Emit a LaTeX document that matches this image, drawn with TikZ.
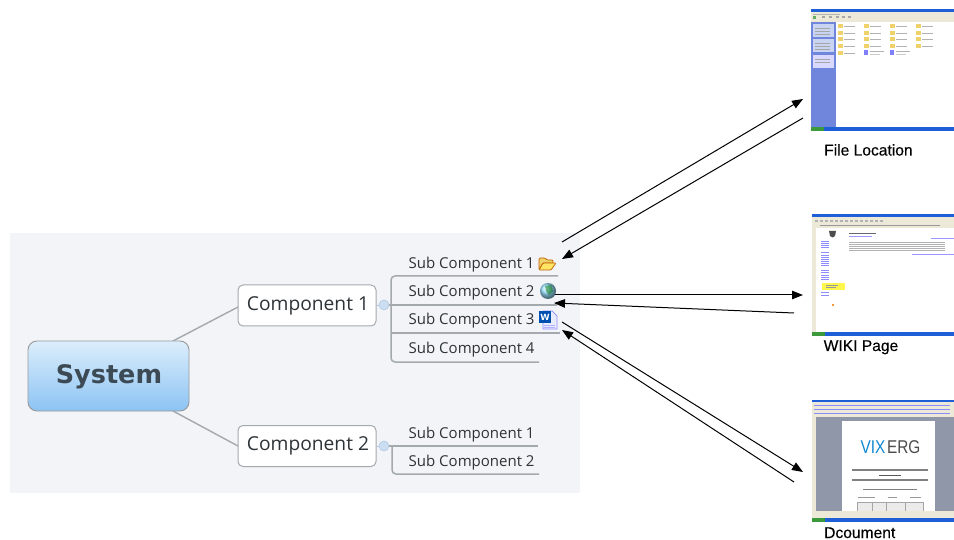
\documentclass[tikz,border=0pt]{standalone}
\usepackage{fontspec}
\setmainfont{Open Sans}
\newfontfamily\labelfont[FakeBold=0.25]{Liberation Sans}
\newfontfamily\plainlabel{Liberation Sans}
\newfontfamily\sysfont{DejaVu Sans}
\usetikzlibrary{arrows.meta}
\definecolor{panel}{HTML}{F2F4F8}
\definecolor{branch}{HTML}{A4A9AE}
\definecolor{inktext}{HTML}{2E3338}
\definecolor{systext}{HTML}{3C4A55}
\definecolor{xpblue}{HTML}{1E5FD8}
\definecolor{xpside}{HTML}{6F86DC}
\definecolor{xpbeige}{HTML}{ECE9D8}
\definecolor{xpgreen}{HTML}{3C9A3C}
\definecolor{folderc}{HTML}{F0D26A}
\definecolor{wordgrey}{HTML}{8F97A8}
\definecolor{systop}{HTML}{DCEEFC}
\definecolor{sysbot}{HTML}{8CC3F3}
\definecolor{knobfill}{HTML}{CBDDF0}
\definecolor{knobline}{HTML}{B4C8E2}
\definecolor{sidepanel}{HTML}{C8D4F2}
\tikzset{
  sysbox/.style={draw=black!40,line width=0.9pt,rounded corners=9pt,top color=systop,bottom color=sysbot,minimum width=161pt,minimum height=70pt,inner sep=0pt},
  compbox/.style={draw=branch,fill=white,line width=1pt,rounded corners=5pt,minimum width=138pt,minimum height=41pt,inner sep=0pt,font=\fontsize{19.2}{24}\selectfont,text=inktext},
  subtext/.style={anchor=base west,inner sep=0pt,font=\fontsize{15}{18}\selectfont,text=inktext},
  branchline/.style={draw=branch,line width=1.5pt,rounded corners=4pt},
  knob/.style={circle,draw=knobline,fill=knobfill,line width=0.6pt,minimum size=10pt,inner sep=0pt},
  capt/.style={anchor=base west,inner sep=0pt,font=\labelfont\fontsize{15.6}{18}\selectfont,text=black},
  link/.style={draw=black,line width=1pt,-{Triangle[length=11pt,width=8.5pt]}},
  tinyrule/.style={draw=black!40,line width=0.5pt}
}
\begin{document}
\begin{tikzpicture}[x=1pt,y=-1pt]
\useasboundingbox (0,0) rectangle (954,540);
\fill[panel] (10,233) rectangle (580,493);

% connector end points
\coordinate (a1s) at (562,242); \coordinate (a1e) at (803,99);
\coordinate (a2s) at (803,118); \coordinate (a2e) at (562,259);
\coordinate (a3s) at (555,295); \coordinate (a3e) at (803,295);
\coordinate (a4s) at (794,313); \coordinate (a4e) at (554,303);
\coordinate (a5s) at (562,322); \coordinate (a5e) at (803,472);
\coordinate (a6s) at (794,482); \coordinate (a6e) at (562,330);
\coordinate (c1a) at (173,341); \coordinate (c1b) at (238,307);
\coordinate (c2a) at (173,411); \coordinate (c2b) at (238,446);

% mind map
\draw[draw=branch,line width=1.4pt] (c1a) -- (c1b);
\draw[draw=branch,line width=1.4pt] (c2a) -- (c2b);
\node[sysbox] (system) at (108.5,376) {};
\node[font=\sysfont\bfseries\fontsize{25.5}{30}\selectfont,text=systext] (systemtext) at (109,376.5) {System};
\node[compbox] (comp1) at (307,305.5) {\raisebox{-2pt}{\hspace{2pt}Component 1}};
\node[compbox] (comp2) at (307,446) {\raisebox{-2pt}{\hspace{2pt}Component 2}};

\coordinate (k1) at (384,305); \coordinate (k2) at (384,446);
\draw[branchline] (558,276) -- (391,276) -- (391,362) -- (539,362);
\draw[branchline] (391,333) -- (560,333);
\draw[branchline] (384,305) -- (557,305);
\draw[branchline] (384,446) -- (538,446);
\draw[branchline] (392,446) -- (392,474) -- (539,474);
\draw[draw=knobline,line width=0.8pt] (comp1.east) -- (k1);
\draw[draw=knobline,line width=0.8pt] (comp2.east) -- (k2);
\node[knob] (knob1) at (k1) {};
\node[knob] (knob2) at (k2) {};

\node[subtext] (s1) at (408.5,269) {Sub Component 1};
\node[subtext] (s2) at (408.5,297) {Sub Component 2};
\node[subtext] (s3) at (408.5,325) {Sub Component 3};
\node[subtext] (s4) at (408.5,353.5) {Sub Component 4};
\node[subtext] (s5) at (408.5,438) {Sub Component 1};
\node[subtext] (s6) at (408.5,466) {Sub Component 2};

% folder icon
\draw[draw=orange!75!black,fill=folderc,line width=0.7pt,rounded corners=1pt] (539,270) -- (539,258) -- (545,258) -- (547,260) -- (553,260) -- (553,263) -- (543,263) -- cycle;
\draw[draw=orange!75!black,fill=orange!35!yellow!60!white,line width=0.7pt,rounded corners=1pt] (539,270) -- (543,263) -- (556,263) -- (551,270) -- cycle;
% globe icon
\shade[ball color=blue!30!cyan!40!white] (548,291) circle (8);
\fill[green!45!black,opacity=.5] (545,286) -- (551,285) -- (553,291) -- (549,295) -- (546,291) -- cycle;
% word icon
\draw[draw=blue!45,fill=blue!8,line width=0.7pt] (543,311) -- (552,311) -- (557,316) -- (557,329) -- (543,329) -- cycle;
\fill[blue!55!cyan!70!black] (539,311) rectangle (551,323);
\node[font=\sysfont\bfseries\fontsize{8.5}{9}\selectfont,text=white,inner sep=0pt] (wordw) at (545,317) {W};
\foreach \yy in {325,327}{\draw[blue!30,line width=0.5pt] (544,\yy) -- (555,\yy);}

% thumbnail 1: file location
\fill[white] (811,9) rectangle (954,131);
\fill[xpbeige] (811,9) rectangle (954,22);
\fill[xpblue] (811,9) rectangle (954,12);
\fill[xpside] (811,22) rectangle (836,127);
\fill[sidepanel] (813,24) rectangle (834,37);
\fill[sidepanel] (813,39) rectangle (834,52);
\fill[white!85!blue] (813,55) rectangle (834,68);
\foreach \yy in {28,31,34,43,46,49,59,62}{\draw[tinyrule,draw=black!35] (815,\yy) -- (830,\yy);}
\fill[xpblue] (811,127) rectangle (954,131);
\fill[xpgreen] (811,127) rectangle (824,131);
\foreach \xx/\yy in {840/26,866/26,892/26,918/26,840/33,866/33,892/33,918/33,840/39.5,866/39.5,892/39.5,918/39.5,840/46,866/46,892/46,918/46,840/53}{
  \fill[folderc] (\xx-2.5,\yy-2) rectangle (\xx+2.5,\yy+2);
  \draw[tinyrule,draw=black!30] (\xx+4,\yy) -- (\xx+15,\yy);
}
\foreach \xx in {866,892}{
  \fill[blue!50] (\xx-2,50.5) rectangle (\xx+2,55);
  \draw[tinyrule,draw=black!30] (\xx+4,51.5) -- (\xx+18,51.5);
  \draw[tinyrule,draw=black!20] (\xx+4,54) -- (\xx+14,54);
}
\draw[tinyrule,draw=black!30] (813,14) -- (840,14);
\fill[xpgreen!80] (813,16) rectangle (816,19);
\foreach \xx in {822,829,836,842,848}{\fill[black!35] (\xx,16.5) rectangle (\xx+3,18.5);}
\node[capt] (cap1) at (824,155.5) {File Location};

% thumbnail 2: wiki page
\fill[white] (812,214) rectangle (954,336);
\fill[xpblue] (812,214) rectangle (954,217);
\fill[xpbeige] (812,217) rectangle (954,228);
\fill[xpbeige] (812,228) rectangle (816,336);
\foreach \xx in {815,820,825,830,835,840,845,850,855,860,865,870,875,880}{\fill[black!30] (\xx,220.5) rectangle (\xx+3,222);}
\draw[tinyrule] (820,225) -- (940,225);
\fill[black!70] (829,231) -- (836,231) -- (835,236) -- (832.5,237.5) -- (830,236) -- cycle;
\fill[yellow!70] (822,283) rectangle (845,290);
\draw[tinyrule,draw=black!40] (826,285) -- (838,285) (826,287.5) -- (836,287.5);
\fill[orange!80] (832,304) rectangle (834,306);
\foreach \yy in {241,243,245,247,252,255,257,259,261,263,265,270,272,275,277,279,292,295}{
  \draw[tinyrule,draw=blue!45] (821,\yy) -- (829,\yy);
}
\foreach \yy in {242,244,246,248,250}{
  \draw[tinyrule,draw=black!30] (849,\yy) -- (945,\yy);
}
\draw[tinyrule,draw=black!60] (849,233) -- (876,233);
\draw[tinyrule,draw=blue!40] (849,236) -- (872,236);
\draw[tinyrule,draw=blue!40] (931,238) -- (954,238);
\draw[tinyrule,draw=blue!40] (912,254) -- (954,254);
\fill[xpgreen] (812,332) rectangle (825,336);
\fill[xpblue] (825,332) rectangle (954,336);
\node[capt] (cap2) at (823.5,351) {WIKI Page};

% thumbnail 3: document
\fill[wordgrey] (812,400) rectangle (954,522);
\fill[xpbeige] (812,400) rectangle (954,417);
\fill[xpblue] (812,400) rectangle (954,402);
\fill[xpbeige] (812,417) rectangle (816,512);
\foreach \yy in {405,409,413}{\draw[tinyrule,draw=blue!45,line width=0.9pt] (814,\yy) -- (950,\yy);}
\fill[white] (842,421) rectangle (935,511);
\node[font=\plainlabel\fontsize{18.5}{20}\selectfont,inner sep=0pt] (vix) at (890.5,447) {\scalebox{0.83}[1]{\textcolor{cyan!70!blue}{VIX}\hspace{2pt}\textcolor{black!70}{ERG}}};
\draw[gray,line width=1.2pt] (852,470) -- (928,470);
\draw[gray,line width=1.2pt] (852,480) -- (928,480);
\draw[tinyrule,draw=black!65,line width=0.9pt] (879,475) -- (901,475);
\draw[tinyrule,draw=black!50,line width=0.8pt] (863,489) -- (917,489);
\draw[tinyrule] (858,497.5) -- (875,497.5);
\draw[tinyrule] (888,497.5) -- (897,497.5);
\draw[tinyrule] (910,497.5) -- (921,497.5);
\draw[black!35,line width=0.5pt,fill=black!8] (857,502) rectangle (923,511);
\draw[black!35,line width=0.5pt] (872,502) -- (872,511) (886,502) -- (886,511) (905,502) -- (905,511);
\fill[xpbeige] (812,511) rectangle (954,518);
\fill[xpblue] (812,518) rectangle (954,522);
\fill[xpgreen] (812,518) rectangle (825,522);
\node[capt] (cap3) at (824,538) {Dcoument};

% arrows
\draw[link] (a1s) -- (a1e);
\draw[link] (a2s) -- (a2e);
\draw[link] (a3s) -- (a3e);
\draw[link] (a4s) -- (a4e);
\draw[link] (a5s) -- (a5e);
\draw[link] (a6s) -- (a6e);
\end{tikzpicture}
\end{document}
